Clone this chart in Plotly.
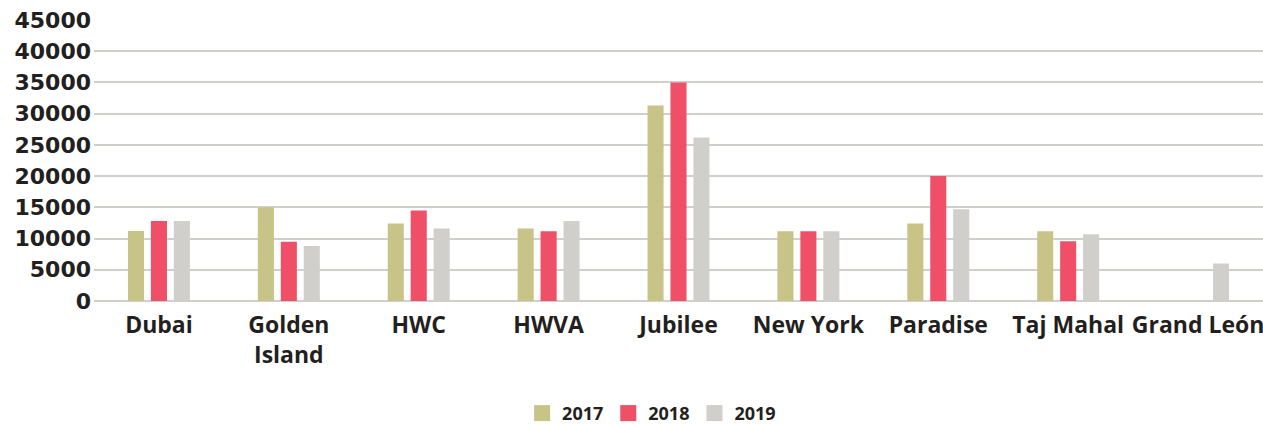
import plotly.graph_objects as go

categories = ["Dubai", "Golden<br>Island", "HWC", "HWVA", "Jubilee", "New York", "Paradise", "Taj Mahal", "Grand León"]
v2017 = [11200, 15000, 12400, 11600, 31300, 11150, 12400, 11150, None]
v2018 = [12800, 9500, 14500, 11150, 35000, 11150, 20000, 9550, None]
v2019 = [12800, 8800, 11600, 12800, 26200, 11150, 14700, 10700, 6000]
years = ["2017", "2018", "2019"]
colors = ["#c8c386", "#ef4f67", "#d0cfcb"]

fig = go.Figure()
for name, vals, col in zip(years, [v2017, v2018, v2019], colors):
    fig.add_trace(go.Bar(x=categories, y=vals, name=name, marker_color=col,
                         marker_line_width=0, legendgroup=name, showlegend=False))
for name, col in zip(years, colors):
    fig.add_trace(go.Scatter(x=[None], y=[None], mode="markers", name=name, legendgroup=name,
                             marker=dict(symbol="square", size=19, color=col, line_width=0)))

ink = "#231f20"
xfont = dict(family="Open Sans", size=23, color=ink, weight="bold")
yfont = dict(family="DejaVu Sans", size=22, color=ink, weight="bold")
fig.update_layout(
    width=1263, height=424,
    margin=dict(l=94, r=0, t=20, b=123, autoexpand=False),
    plot_bgcolor="white", paper_bgcolor="white",
    barmode="group", bargap=0.47, bargroupgap=0.3,
    font=xfont,
    legend=dict(orientation="h", x=0.477, xanchor="center", y=-0.40, yanchor="middle",
                font=dict(family="Open Sans", size=18, color=ink, weight="bold"),
                itemwidth=30, itemsizing="trace", traceorder="normal"),
    xaxis=dict(showgrid=False, showline=False, ticks="", tickfont=xfont,
               automargin=False, ticklabelstandoff=8),
    yaxis=dict(range=[0, 45000], dtick=5000, showgrid=True, gridcolor="#d0cfcb", gridwidth=2,
               zeroline=True, zerolinecolor="#d0cfcb", zerolinewidth=2,
               showline=False, ticks="", tickfont=yfont, tickformat="d",
               automargin=False, ticklabelstandoff=2),
)
fig.write_html("out.html", config={"displayModeBar": False},
               post_script="document.body.style.margin='0px';document.body.style.overflow='hidden';")
